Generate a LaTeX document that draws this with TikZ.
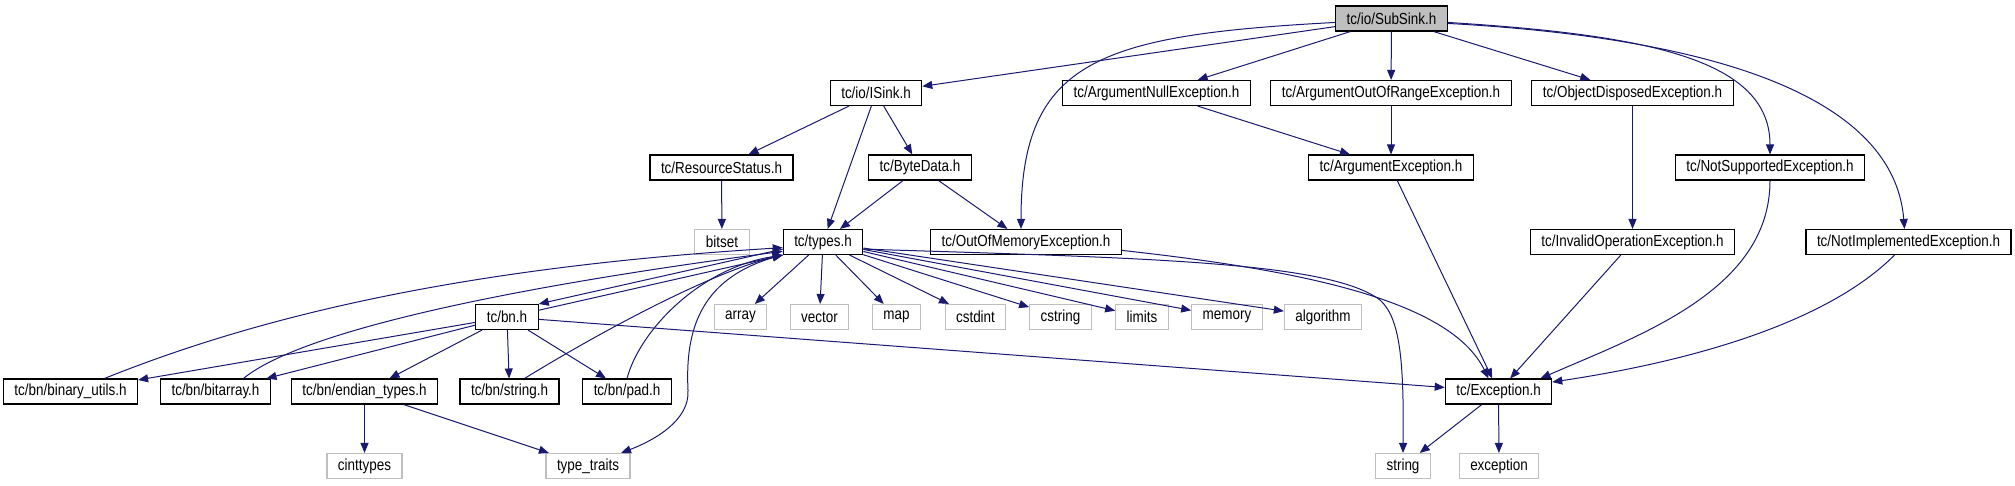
\documentclass[tikz,border=0pt]{standalone}
\usepackage{fontspec}
\setmainfont{Liberation Sans}[FakeStretch=0.84]
\usetikzlibrary{arrows.meta}
\definecolor{edgeblue}{HTML}{191970}
\definecolor{sysgray}{HTML}{BFBFBF}

\begin{document}
\begin{tikzpicture}[x=1pt, y=-1pt, >={Triangle[length=10pt,width=8pt]},
  every node/.style={draw=black, fill=white, line width=1.1pt, rectangle, minimum height=25pt,
    inner xsep=11pt, inner ysep=0pt, font=\fontsize{16pt}{18pt}\selectfont},
  sys/.style={draw=sysgray},
  root/.style={fill=sysgray},
  dep/.style={->, draw=edgeblue, line width=1pt}]
  \useasboundingbox (0,0) rectangle (2015,485);
  \node[root] (SubSink) at (1391.5,18.5) {tc/io/SubSink.h};
  \node (ISink) at (876,93) {tc/io/ISink.h};
  \node (ArgNull) at (1156.5,93) {tc/ArgumentNullException.h};
  \node (ArgRange) at (1391,93) {tc/ArgumentOutOfRangeException.h};
  \node (ObjDisp) at (1632.5,93) {tc/ObjectDisposedException.h};
  \node (ResStatus) at (721.5,167.5) {tc/ResourceStatus.h};
  \node (ByteData) at (920,167.5) {tc/ByteData.h};
  \node (ArgExc) at (1391,167.5) {tc/ArgumentException.h};
  \node (NotSupp) at (1770,167.5) {tc/NotSupportedException.h};
  \node[sys] (bitset) at (722,242) {bitset};
  \node (types) at (823,242) {tc/types.h};
  \node (OutOfMem) at (1026,242) {tc/OutOfMemoryException.h};
  \node (InvOp) at (1632.5,242) {tc/InvalidOperationException.h};
  \node (NotImpl) at (1908.5,242) {tc/NotImplementedException.h};
  \node (bn) at (507,317) {tc/bn.h};
  \node[sys] (array) at (740.5,317) {array};
  \node[sys] (vector) at (819.5,317) {vector};
  \node[sys] (map) at (896.5,317) {map};
  \node[sys] (cstdint) at (975.5,317) {cstdint};
  \node[sys] (cstring) at (1060.5,317) {cstring};
  \node[sys] (limits) at (1142,317) {limits};
  \node[sys] (memory) at (1227,317) {memory};
  \node[sys] (algorithm) at (1323,317) {algorithm};
  \node (binutils) at (70.5,391.5) {tc/bn/binary\_utils.h};
  \node (bitarray) at (215.5,391.5) {tc/bn/bitarray.h};
  \node (endian) at (364.5,391.5) {tc/bn/endian\_types.h};
  \node (bnstring) at (509.5,391.5) {tc/bn/string.h};
  \node (bnpad) at (627,391.5) {tc/bn/pad.h};
  \node (Exception) at (1498.5,391.5) {tc/Exception.h};
  \node[sys] (cinttypes) at (364.5,466) {cinttypes};
  \node[sys] (typetraits) at (588,466) {type\_traits};
  \node[sys] (string) at (1403,466) {string};
  \node[sys] (exception) at (1499,466) {exception};
  \draw[dep] (SubSink) -- (ISink);
  \draw[dep] (SubSink.184) .. controls (1100,35) and (1021,60) .. ([xshift=-5pt]OutOfMem.north);
  \draw[dep] (SubSink) -- (ArgNull);
  \draw[dep] (SubSink) -- (ArgRange);
  \draw[dep] (SubSink) -- (ObjDisp);
  \draw[dep] (SubSink.-4) .. controls (1650,35) and (1770,60) .. (NotSupp.north);
  \draw[dep] (SubSink.-5) .. controls (1750,40) and (1895,110) .. ([xshift=-4pt]NotImpl.north);
  \draw[dep] (ISink) -- (ResStatus);
  \draw[dep] (ISink) -- (types);
  \draw[dep] (ISink) -- (ByteData);
  \draw[dep] (ResStatus) -- (bitset);
  \draw[dep] (ByteData) -- (types);
  \draw[dep] (ByteData) -- (OutOfMem);
  \draw[dep] (ArgNull) -- (ArgExc);
  \draw[dep] (ArgRange) -- (ArgExc);
  \draw[dep] (ObjDisp) -- (InvOp);
  \draw[dep] (ArgExc) -- (Exception);
  \draw[dep] (InvOp) -- (Exception);
  \draw[dep] (NotSupp.south) .. controls (1770,290) and (1640,335) .. ([xshift=42pt]Exception.north);
  \draw[dep] ([xshift=-14pt]NotImpl.south) .. controls (1830,320) and (1700,360) .. (Exception.10);
  \draw[dep] (OutOfMem.-5) .. controls (1300,270) and (1450,300) .. ([xshift=-10pt]Exception.north);
  \draw[dep] (types) -- (array);
  \draw[dep] (types) -- (vector);
  \draw[dep] (types) -- (map);
  \draw[dep] (types) -- (cstdint);
  \draw[dep] (types) -- (cstring);
  \draw[dep] (types) -- (limits);
  \draw[dep] (types) -- (memory);
  \draw[dep] (types) -- (algorithm);
  \draw[dep] (types.-10) .. controls (1150,258) and (1330,262) .. (1380,300)
    .. controls (1400,318) and (1404,360) .. (string.north);
  \draw[dep] (types.190) -- (bn.north east);
  \draw[dep] (bn.12) -- (types.south west);
  \draw[dep] (bn) -- (binutils);
  \draw[dep] (bn) -- (bitarray);
  \draw[dep] (bn) -- (endian);
  \draw[dep] (bn) -- (bnstring);
  \draw[dep] (bn) -- (bnpad);
  \draw[dep] (bn) -- (Exception);
  \draw[dep] ([xshift=34pt]binutils.north) .. controls (250,320) and (450,268) .. (types.188);
  \draw[dep] ([xshift=28pt]bitarray.north) .. controls (290,340) and (450,295) .. (types.193);
  \draw[dep] ([xshift=15pt]bnstring.north) .. controls (620,320) and (720,270) .. (types.198);
  \draw[dep] (bnpad.north) .. controls (640,330) and (700,268) .. (types.south west);
  \draw[dep] (types.south west) .. controls (700,275) and (685,330) .. (688,390)
    .. controls (690,420) and (655,440) .. ([xshift=33pt]typetraits.north);
  \draw[dep] (endian) -- (cinttypes);
  \draw[dep] (endian) -- (typetraits);
  \draw[dep] (Exception) -- (string);
  \draw[dep] (Exception) -- (exception);
\end{tikzpicture}
\end{document}
